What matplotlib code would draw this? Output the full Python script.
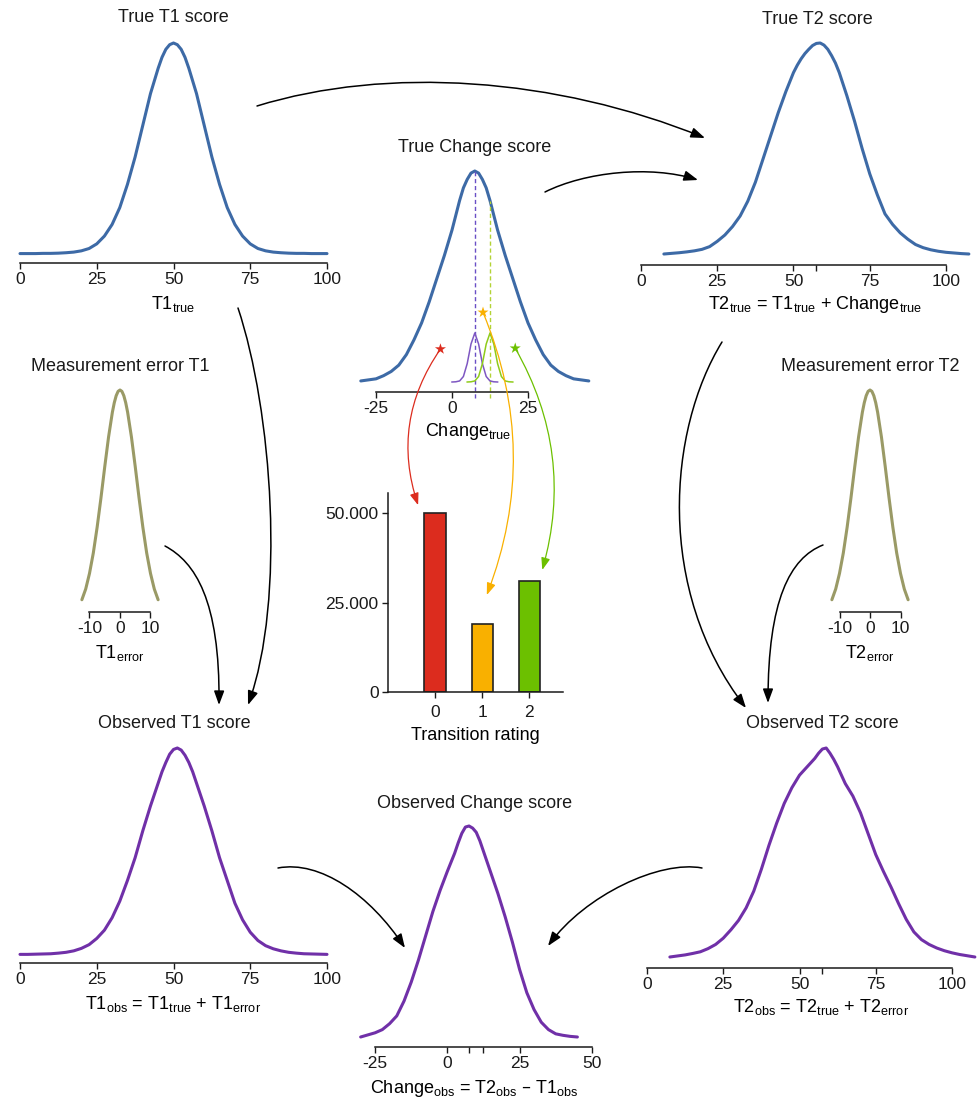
import numpy as np
import matplotlib
matplotlib.use('Agg')
import matplotlib.pyplot as plt
from matplotlib.patches import FancyArrowPatch, ConnectionPatch
from matplotlib.path import Path

plt.rcParams['font.family'] = ['Liberation Sans', 'DejaVu Sans']
plt.rcParams['mathtext.default'] = 'regular'
plt.rcParams['axes.unicode_minus'] = False
plt.rcParams['text.color'] = '#1a1a1a'
plt.rcParams['xtick.color'] = '#1a1a1a'
plt.rcParams['ytick.color'] = '#1a1a1a'

W, H = 978, 1101
BLUE = '#3d6aa6'
PURPLE = '#7030a8'
OLIVE = '#9a9a66'
RED = '#dc2c1e'
ORANGE = '#f9b000'
GREEN = '#6cc000'
INK = '#1a1a1a'

# density curves (relative heights, peak = 1)
true_t1_x = np.r_[0:45:2.5, 45:55:1.25, 55:100.1:2.5]
true_t1_y = [0.002, 0.002, 0.002, 0.003, 0.003, 0.004, 0.006, 0.009, 0.015, 0.026,
             0.048, 0.085, 0.14, 0.22, 0.33, 0.46, 0.61, 0.76,
             0.88, 0.932, 0.97, 0.992, 1.0, 0.992, 0.97, 0.932,
             0.88, 0.76, 0.61, 0.46, 0.33, 0.22, 0.14, 0.085, 0.048, 0.026,
             0.015, 0.009, 0.006, 0.004, 0.003, 0.003, 0.002, 0.002, 0.002]

true_t2_x = np.r_[7.5:50:2.5, 50:65:1.25, 65:107.6:2.5]
true_t2_y = [0.0, 0.003, 0.006, 0.01, 0.015, 0.022, 0.035, 0.06, 0.09, 0.13,
             0.18, 0.25, 0.34, 0.45, 0.56, 0.67, 0.77,
             0.86, 0.895, 0.925, 0.95, 0.97, 0.988, 0.998, 1.0, 0.99, 0.97, 0.94, 0.905,
             0.86, 0.75, 0.63, 0.50, 0.38, 0.28, 0.19, 0.14, 0.10, 0.07,
             0.045, 0.03, 0.02, 0.013, 0.008, 0.005, 0.002, 0.0]

true_change_x = np.r_[-30:2.5:2.5, 2.5:12.5:1.25, 12.5:45.1:2.5]
true_change_y = [0.005, 0.01, 0.015, 0.03, 0.05, 0.08, 0.13, 0.20, 0.28, 0.38,
                 0.49, 0.60, 0.72,
                 0.86, 0.92, 0.96, 0.99, 1.0, 0.99, 0.96, 0.92,
                 0.86, 0.72, 0.60, 0.49, 0.38, 0.28, 0.20, 0.13, 0.08, 0.05,
                 0.03, 0.015, 0.01, 0.005]

# small conditional curves inside the true change panel
cond_offsets = np.arange(-7.5, 7.6, 1.25)
cond_y = [0.0, 0.001, 0.005, 0.026, 0.087, 0.18, 0.232, 0.18, 0.087, 0.026, 0.005, 0.001, 0.0]
cond_centres = [7.5, 12.5]
change_cuts = [7.5, 12.5]
cut_heights = [1.0, 0.86]

err_x = np.r_[-12.5:-2.5:1.25, -2.5:2.6:0.625, 3.75:12.6:1.25]
err_y = [0.076, 0.123, 0.192, 0.282, 0.395, 0.524, 0.662, 0.793,
         0.902, 0.944, 0.975, 0.994, 1.0, 0.994, 0.975, 0.944, 0.902,
         0.793, 0.662, 0.524, 0.395, 0.282, 0.192, 0.123, 0.076]

obs_t1_x = np.r_[0:45:2.5, 45:57.5:1.25, 57.5:100.1:2.5]
obs_t1_y = [0.003, 0.003, 0.004, 0.005, 0.006, 0.009, 0.013, 0.02, 0.032, 0.05,
            0.08, 0.12, 0.18, 0.26, 0.36, 0.47, 0.60, 0.72,
            0.83, 0.885, 0.93, 0.97, 0.993, 1.0, 0.99, 0.965, 0.93, 0.885,
            0.83, 0.72, 0.60, 0.47, 0.36, 0.25, 0.17, 0.11, 0.07,
            0.045, 0.03, 0.02, 0.013, 0.009, 0.006, 0.005, 0.004, 0.003]

obs_t2_x = np.r_[7.5:50:2.5, 50:65:1.25, 65:107.6:2.5]
obs_t2_y = [0.0, 0.005, 0.01, 0.017, 0.025, 0.04, 0.06, 0.09, 0.13, 0.175,
            0.235, 0.315, 0.42, 0.535, 0.64, 0.735, 0.81,
            0.87, 0.89, 0.91, 0.93, 0.95, 0.975, 0.995, 1.0, 0.975, 0.945, 0.91, 0.87,
            0.83, 0.77, 0.69, 0.59, 0.49, 0.41, 0.335, 0.255, 0.18, 0.12,
            0.083, 0.06, 0.043, 0.03, 0.02, 0.012, 0.006, 0.0]

obs_change_x = np.r_[-30:2.5:2.5, 2.5:12.5:1.25, 12.5:45.1:2.5]
obs_change_y = [0.0, 0.01, 0.02, 0.035, 0.063, 0.10, 0.17, 0.26, 0.365, 0.48,
                0.595, 0.695, 0.785,
                0.87, 0.92, 0.965, 0.995, 1.0, 0.99, 0.97, 0.93,
                0.88, 0.78, 0.68, 0.57, 0.45, 0.32, 0.21, 0.13, 0.07, 0.035,
                0.015, 0.008, 0.003, 0.0]

ratings = [0, 1, 2]
counts = [50000, 19000, 31000]
bar_colors = [RED, ORANGE, GREEN]
count_ticks = [0, 25000, 50000]
count_labels = ['0', '25.000', '50.000']

# star on the true change curve -> point on the bar chart
star_x = [-3.8, 10.2, 20.8]
star_y = [0.156, 0.33, 0.16]
target_x = [-0.36, 1.1, 2.28]
target_y = [52200, 27100, 34100]
link_rad = [0.25, -0.2, -0.21]


fig = plt.figure(figsize=(W / 100, H / 100), dpi=100)


def panel(px0, scale, xlim, top, base, axis):
    lo, hi = xlim
    ax = fig.add_axes([(px0 + scale * lo) / W, 1 - axis / H,
                       scale * (hi - lo) / W, (axis - top) / H])
    ax.set_xlim(lo, hi)
    ax.set_ylim(-(axis - base) / (base - top), 1.0)
    for s in ['left', 'right', 'top']:
        ax.spines[s].set_visible(False)
    ax.spines['bottom'].set_linewidth(1.1)
    ax.spines['bottom'].set_color(INK)
    ax.set_yticks([])
    ax.patch.set_visible(False)
    ax.tick_params(axis='x', length=4.3, width=1.0, labelsize=12.5, pad=2.5)
    ax.tick_params(axis='x', which='minor', length=4.3, width=1.0)
    return ax


def title(x, y, s):
    fig.text(x / W, 1 - y / H, s, ha='center', va='center', fontsize=13)


def curve(ax, x, y, color, lw=2.2):
    ax.plot(x, y, color=color, lw=lw, clip_on=False,
            solid_capstyle='round', solid_joinstyle='round')


def black_arrow(p0, c1, c2, p3):
    verts = [(x / W, 1 - y / H) for x, y in (p0, c1, c2, p3)]
    path = Path(verts, [Path.MOVETO, Path.CURVE4, Path.CURVE4, Path.CURVE4])
    fig.add_artist(FancyArrowPatch(path=path, transform=fig.transFigure,
                                   arrowstyle='-|>,head_length=0.6,head_width=0.22',
                                   mutation_scale=14, color='black', lw=1.1))


# True T1
ax = panel(20, 3.07, (0, 100), 43, 254, 263)
curve(ax, true_t1_x, true_t1_y, BLUE)
ax.set_xticks([0, 25, 50, 75, 100])
ax.set_xlabel('T1$_{true}$', fontsize=13, labelpad=5)
title(173, 18, 'True T1 score')

# True T2
ax = panel(641, 3.05, (0, 110), 43, 254, 265)
curve(ax, true_t2_x, true_t2_y, BLUE)
ax.spines['bottom'].set_bounds(0, 100)
ax.set_xticks([0, 25, 50, 75, 100])
ax.set_xticks([57.5], minor=True)
ax.set_xlabel('T2$_{true}$ = T1$_{true}$ + Change$_{true}$', fontsize=13)
ax.xaxis.set_label_coords(0.52, -0.13)
title(817, 19, 'True T2 score')

# True change
axc = panel(452, 3.04, (-31, 46), 171, 382, 392)
curve(axc, true_change_x, true_change_y, BLUE)
axc.spines['bottom'].set_bounds(-25, 25)
axc.set_xticks([-25, 0, 25])
axc.set_xlabel('Change$_{true}$', fontsize=13)
axc.xaxis.set_label_coords(0.47, -0.13)
ymin = axc.get_ylim()[0] - 6 / 211
for cx, ch, dcol in zip(change_cuts, cut_heights, ['#6a4fc6', '#b3d335']):
    axc.plot([cx, cx], [ymin, ch], color=dcol, lw=1.0, ls=(0, (3, 2)), clip_on=False)
for c, centre in zip(['#7e57c2', '#8fcb1a'], cond_centres):
    axc.plot(cond_offsets + centre, cond_y, color=c, lw=1.1, clip_on=False)
axc.scatter(star_x, star_y, marker='*', s=70, c=bar_colors, zorder=5, clip_on=False,
            linewidths=0)
title(475, 148, 'True Change score')

# Measurement errors
for cx, lab in [(120, 'T1'), (870, 'T2')]:
    ax = panel(cx, 3.05, (-13, 13), 390, 617, 612)
    curve(ax, err_x, err_y, OLIVE)
    ax.spines['bottom'].set_bounds(-10, 10)
    ax.set_xticks([-10, 0, 10])
    ax.set_xlabel(lab + '$_{error}$', fontsize=13, labelpad=5)
    title(cx, 367, 'Measurement error ' + lab)

# Bar chart of transition ratings
axb = fig.add_axes([388 / W, 1 - 692 / H, (563 - 388) / W, (692 - 493) / H])
axb.bar(ratings, counts, width=0.45, color=bar_colors, edgecolor='#222222', lw=1.2)
axb.set_xlim(-1.0, 2.72)
axb.set_ylim(0, 55600)
axb.spines['top'].set_visible(False)
axb.spines['right'].set_visible(False)
for s in ['left', 'bottom']:
    axb.spines[s].set_linewidth(1.1)
    axb.spines[s].set_color(INK)
axb.patch.set_visible(False)
axb.set_xticks(ratings)
axb.set_yticks(count_ticks)
axb.set_yticklabels(count_labels)
axb.tick_params(length=4.3, width=1.0, labelsize=12.5, pad=2.5)
axb.tick_params(axis='x', pad=5)
axb.set_xlabel('Transition rating', fontsize=13, labelpad=5)

for sx, sy, tx, ty, col, rad in zip(star_x, star_y, target_x, target_y, bar_colors, link_rad):
    cp = ConnectionPatch((sx, sy), (tx, ty), coordsA='data', coordsB='data',
                         axesA=axc, axesB=axb, connectionstyle='arc3,rad=%s' % rad,
                         arrowstyle='-|>,head_length=0.6,head_width=0.22',
                         mutation_scale=12, color=col, lw=0.9)
    fig.add_artist(cp)

# Observed T1
ax = panel(20, 3.07, (0, 100), 748, 955, 963)
curve(ax, obs_t1_x, obs_t1_y, PURPLE)
ax.set_xticks([0, 25, 50, 75, 100])
ax.set_xlabel('T1$_{obs}$ = T1$_{true}$ + T1$_{error}$', fontsize=13, labelpad=5)
title(174, 723, 'Observed T1 score')

# Observed T2
ax = panel(647, 3.05, (0, 110), 748, 957, 968)
curve(ax, obs_t2_x, obs_t2_y, PURPLE)
ax.spines['bottom'].set_bounds(0, 100)
ax.set_xticks([0, 25, 50, 75, 100])
ax.set_xticks([57.5], minor=True)
ax.set_xlabel('T2$_{obs}$ = T2$_{true}$ + T2$_{error}$', fontsize=13)
ax.xaxis.set_label_coords(0.52, -0.13)
title(822, 724, 'Observed T2 score')

# Observed change
ax = panel(452, 3.04, (-31, 46), 826, 1037, 1047)
curve(ax, obs_change_x, obs_change_y, PURPLE)
ax.spines['bottom'].set_bounds(-25, 50)
ax.set_xticks([-25, 0, 25, 50])
ax.set_xticks(change_cuts, minor=True)
ax.set_xlabel('Change$_{obs}$ = T2$_{obs}$ \u2013 T1$_{obs}$', fontsize=13, labelpad=5)
title(475, 803, 'Observed Change score')

# flow arrows between panels
black_arrow((257, 106), (387, 66), (555, 77), (705, 138))
black_arrow((545, 192), (585, 172), (650, 165), (698, 180))
black_arrow((238, 308), (272, 410), (286, 600), (248, 705))
black_arrow((165, 546), (195, 562), (220, 600), (219, 705))
black_arrow((722, 342), (668, 430), (655, 590), (746, 708))
black_arrow((823, 545), (790, 558), (768, 600), (768, 703))
black_arrow((278, 868), (320, 860), (370, 895), (405, 948))
black_arrow((702, 868), (660, 860), (585, 895), (548, 946))

fig.savefig('out.png', dpi=100)
